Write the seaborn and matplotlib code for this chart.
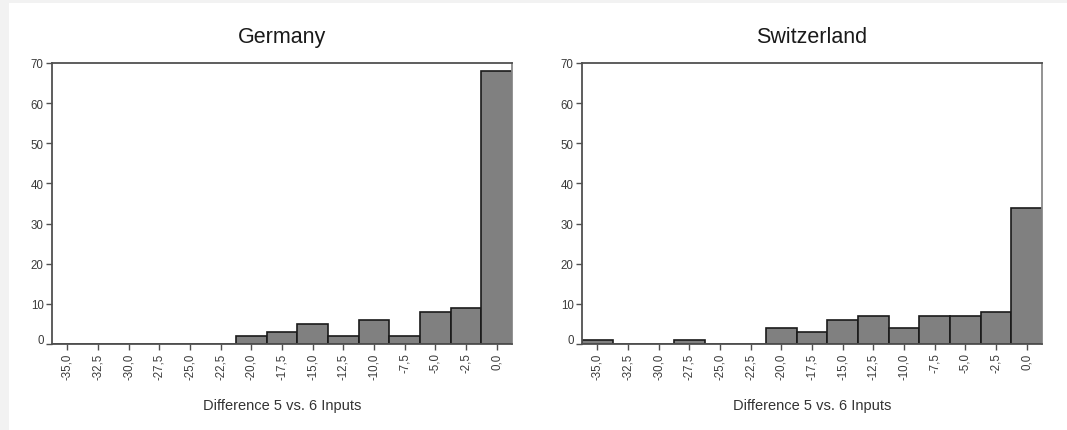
import matplotlib
matplotlib.use("Agg")
import matplotlib.pyplot as plt
import matplotlib.patches as mpatches
import matplotlib.transforms as mtransforms
import seaborn as sns
import numpy as np
import pandas as pd

# ---- data ----
bin_centers = [-35.0, -32.5, -30.0, -27.5, -25.0, -22.5, -20.0, -17.5,
               -15.0, -12.5, -10.0, -7.5, -5.0, -2.5, 0.0]
germany_counts = [0, 0, 0, 0, 0, 0, 2, 3, 5, 2, 6, 2, 8, 9, 68]
switzerland_counts = [1, 0, 0, 1, 0, 0, 4, 3, 6, 7, 4, 7, 7, 8, 34]
panel_titles = ["Germany", "Switzerland"]
x_label = "Difference 5 vs. 6 Inputs"
x_tick_labels = [f"{v:.1f}".replace(".", ",") for v in bin_centers]
y_ticks = [0, 10, 20, 30, 40, 50, 60, 70]

sns.set_theme(style="white")
plt.rcParams["font.family"] = ["Liberation Sans", "DejaVu Sans"]

W, H = 1067, 431
fig = plt.figure(figsize=(W / 100, H / 100), dpi=100)
fig.patch.set_facecolor("#f2f2f2")
bg = mpatches.Rectangle((9 / W, 0), 1 - 9 / W, (H - 4) / H,
                        transform=fig.transFigure,
                        facecolor="white", edgecolor="none", zorder=-10)
fig.add_artist(bg)

binw = 2.5
lo, hi = bin_centers[0] - binw / 2, bin_centers[-1] + binw / 2

ax_left_px = [52, 582]
ax_w_px = 460
ax_bottom_px = 345
ax_h_px = 281

for i, (title, counts) in enumerate(zip(panel_titles,
                                        [germany_counts, switzerland_counts])):
    ax = fig.add_axes([ax_left_px[i] / W, (H - ax_bottom_px) / H,
                       ax_w_px / W, ax_h_px / H])
    ax.set_zorder(1)
    ax.set_facecolor("white")
    df = pd.DataFrame({"diff": bin_centers, "n": counts})
    sns.histplot(data=df, x="diff", weights="n", binwidth=binw,
                 binrange=(lo, hi), color="#808080", alpha=1.0,
                 edgecolor="#1a1a1a", linewidth=1.2, ax=ax)
    ax.set_xlim(lo, hi)
    ax.set_ylim(0, 70)
    ax.set_xticks(bin_centers)
    ax.set_xticklabels(x_tick_labels, rotation=90)
    ax.set_yticks(y_ticks)
    ax.set_yticklabels([str(v) for v in y_ticks])
    ax.tick_params(axis="both", which="major", direction="out", length=4,
                   width=1, color="#505050", labelsize=8.3, labelcolor="#3a3a3a",
                   pad=2, bottom=True, left=True)
    # SPSS draws the "0" label slightly above the baseline
    zero_lbl = ax.get_yticklabels()[0]
    zero_lbl.set_transform(zero_lbl.get_transform() +
                           mtransforms.ScaledTranslation(0, 5 / 100,
                                                         fig.dpi_scale_trans))
    for name, sp in ax.spines.items():
        sp.set_visible(True)
        sp.set_color("#505050")
        sp.set_linewidth(1.3)
    ax.spines["right"].set_color("#8a8a8a")
    ax.set_ylabel("")
    ax.set_xlabel(x_label, fontsize=10.5, color="#333333")
    ax.xaxis.set_label_coords(0.5, -(399 - ax_bottom_px) / ax_h_px)
    ax.set_title(title, fontsize=15.5, color="#1a1a1a", pad=15)
    ax.grid(False)

fig.savefig("out.png", dpi=100, facecolor=fig.get_facecolor())
